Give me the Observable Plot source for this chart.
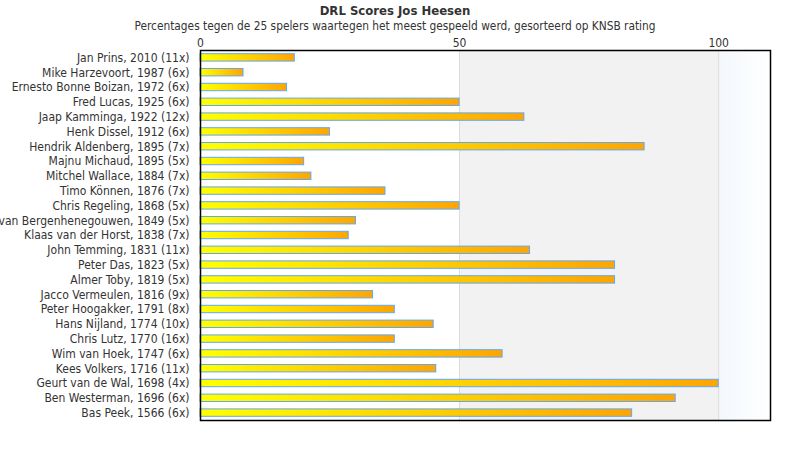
<!DOCTYPE html>
<html>
<head>
<meta charset="utf-8">
<script src="https://cdn.jsdelivr.net/npm/d3@7"></script>
<script src="https://cdn.jsdelivr.net/npm/@observablehq/plot@0.6"></script>
<style>
  html, body { margin: 0; padding: 0; background: #fff; }
  body { width: 790px; height: 450px; overflow: hidden; font-family: "DejaVu Sans Condensed", "DejaVu Sans", sans-serif; color: #333; }
  #title { height: 18px; line-height: 18px; text-align: center; font-weight: bold; font-size: 13px; padding-top: 2px; }
  #subtitle { height: 12px; line-height: 12px; text-align: center; font-size: 11.8px; }
  svg { display: block; }
</style>
</head>
<body>
<div id="title">DRL Scores Jos Heesen</div>
<div id="subtitle">Percentages tegen de 25 spelers waartegen het meest gespeeld werd, gesorteerd op KNSB rating</div>
<div id="chart"></div>
<script>
const players = [
  "Jan Prins, 2010 (11x)",
  "Mike Harzevoort, 1987 (6x)",
  "Ernesto Bonne Boizan, 1972 (6x)",
  "Fred Lucas, 1925 (6x)",
  "Jaap Kamminga, 1922 (12x)",
  "Henk Dissel, 1912 (6x)",
  "Hendrik Aldenberg, 1895 (7x)",
  "Majnu Michaud, 1895 (5x)",
  "Mitchel Wallace, 1884 (7x)",
  "Timo Können, 1876 (7x)",
  "Chris Regeling, 1868 (5x)",
  "van Bergenhenegouwen, 1849 (5x)",
  "Klaas van der Horst, 1838 (7x)",
  "John Temming, 1831 (11x)",
  "Peter Das, 1823 (5x)",
  "Almer Toby, 1819 (5x)",
  "Jacco Vermeulen, 1816 (9x)",
  "Peter Hoogakker, 1791 (8x)",
  "Hans Nijland, 1774 (10x)",
  "Chris Lutz, 1770 (16x)",
  "Wim van Hoek, 1747 (6x)",
  "Kees Volkers, 1716 (11x)",
  "Geurt van de Wal, 1698 (4x)",
  "Ben Westerman, 1696 (6x)",
  "Bas Peek, 1566 (6x)"
];
const scores = [18.2, 8.3, 16.7, 50, 62.5, 25, 85.7, 20, 21.4, 35.7, 50, 30, 28.6, 63.6, 80, 80, 33.3, 37.5, 45, 37.5, 58.3, 45.5, 100, 91.7, 83.3];
const xTicks = [0, 50, 100];
const gridLines = [50, 100];
const bandStart = [50, 100];
const bandEnd = [100, 110];
const xDomain = [0, 110];

const rows = players.map((p, i) => ({player: p, score: scores[i]}));
const bands = bandStart.map((s, i) => ({x1: s, x2: bandEnd[i], i}));

const chart = Plot.plot({
  width: 790,
  height: 418,
  marginTop: 18,
  marginBottom: 30,
  marginLeft: 200,
  marginRight: 20,
  style: {fontFamily: '"DejaVu Sans Condensed", "DejaVu Sans", sans-serif', fontSize: "12px", color: "#333", background: "transparent"},
  x: {domain: xDomain, axis: "top", ticks: xTicks, tickSize: 0, tickPadding: 4, label: null},
  y: {domain: players, paddingInner: 0.5, paddingOuter: 0.25, round: false, tickSize: 0, tickPadding: 11, label: null},
  marks: [
    Plot.rect(bands.slice(0, 1), {x1: "x1", x2: "x2", fill: "#f2f2f2"}),
    Plot.rect(bands.slice(1), {x1: "x1", x2: "x2", fill: "url(#bandGrad)"}),
    Plot.ruleX(gridLines, {stroke: "#dcdcdc", strokeWidth: 1}),
    Plot.barX(rows, {y: "player", x: "score", fill: "url(#barGrad)", stroke: "#5fa8f5", strokeWidth: 1}),
    Plot.frame({stroke: "#000", strokeWidth: 1.5})
  ]
});

const svg = d3.select(chart);
const defs = svg.insert("defs", ":first-child");
const g1 = defs.append("linearGradient").attr("id", "barGrad").attr("x1", 0).attr("x2", 1).attr("y1", 0).attr("y2", 0);
g1.append("stop").attr("offset", "0%").attr("stop-color", "#ffff00");
g1.append("stop").attr("offset", "100%").attr("stop-color", "#ffa500");
const g2 = defs.append("linearGradient").attr("id", "bandGrad").attr("x1", 0).attr("x2", 1).attr("y1", 0).attr("y2", 0);
g2.append("stop").attr("offset", "0%").attr("stop-color", "#f3f8fc");
g2.append("stop").attr("offset", "100%").attr("stop-color", "#ffffff");

document.getElementById("chart").appendChild(chart);
</script>
</body>
</html>
